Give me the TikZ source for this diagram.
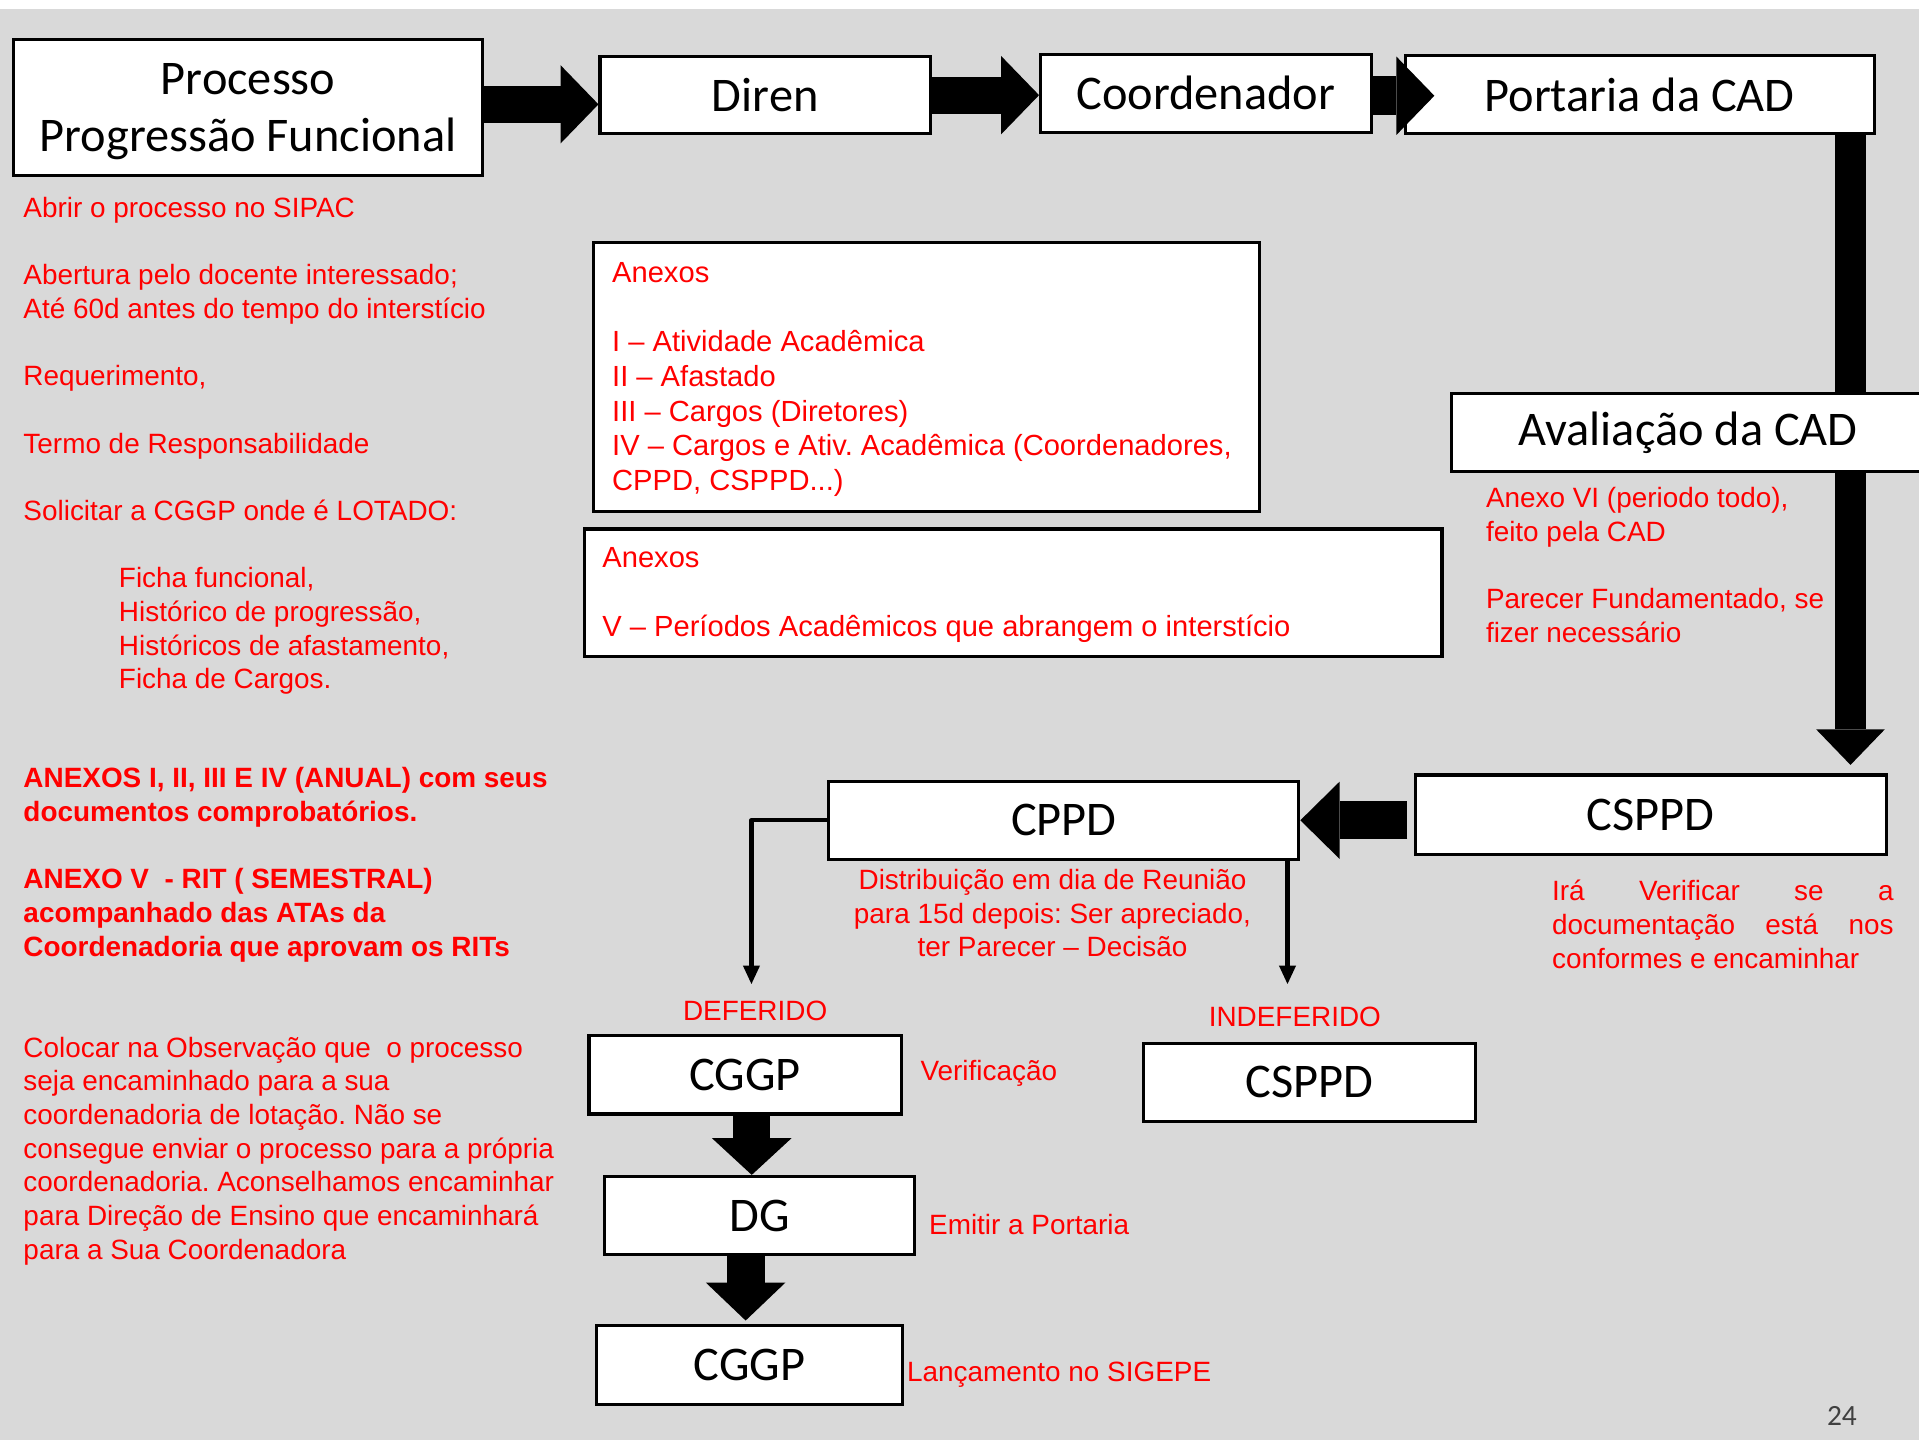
\documentclass[tikz,border=0pt]{standalone}
\usepackage{fontspec}
\setmainfont{Liberation Sans}
\newfontfamily\boxfamily{Carlito}
\usetikzlibrary{arrows.meta, positioning}
\usepackage{xcolor}
\definecolor{slideGray}{RGB}{217, 217, 217}
\definecolor{noteRed}{RGB}{255, 0, 0}
\definecolor{pageGray}{RGB}{64, 64, 64}
\frenchspacing
\newcommand{\boxfont}{\boxfamily\fontsize{39.5}{47}\selectfont}
\newcommand{\notefont}{\fontsize{22.8}{27.5}\selectfont}
\newcommand{\annexfont}{\fontsize{23.8}{28.4}\selectfont}
\tikzset{
    stagebox/.style={draw=black, line width=2.5pt, fill=white, font=\boxfont, inner sep=0pt, anchor=north west},
    annexbox/.style={draw=black, line width=2.5pt, fill=white, inner sep=0pt, anchor=north west},
    note/.style={text=noteRed, font=\notefont, inner sep=0pt, align=left, anchor=north west},
    tag/.style={text=noteRed, font=\notefont, inner sep=0pt, anchor=base west},
    bigarrow/.style={line width=30pt, -{Triangle[length=31pt, width=64pt, line width=0pt]}},
    thinarrow/.style={line width=3.5pt, line join=round, -{Triangle[length=15pt, width=14pt, line width=0pt]}}
}

\begin{document}
\begin{tikzpicture}[x=1pt, y=-1pt]
                    % Draw the slide background
                    \useasboundingbox (0,0) rectangle (1568,1177);
                    \fill[slideGray] (0,7) rectangle (1568,1177);

                    % Draw the top row of boxes
                    \node[stagebox, minimum width=383pt, minimum height=111pt, align=center, text depth=0pt] (proc) at (10,31) {Processo\\Progressão Funcional};
                    \node[stagebox, minimum width=270pt, minimum height=63pt] (diren) at (489,45) {Diren};
                    \node[stagebox, minimum width=270pt, minimum height=64pt] (coord) at (849,43) {Coordenador};
                    \node[stagebox, minimum width=383pt, minimum height=64pt] (portaria) at (1147,44) {Portaria da CAD};

                    % Draw the arrows between them
                    \draw[bigarrow] ([yshift=2.5pt]proc.east) -- ([yshift=2.5pt]proc.east -| diren.west);
                    \draw[bigarrow] (diren.east) -- (diren.east -| coord.west);
                    \draw[bigarrow, line width=32pt] ([yshift=-2pt]coord.east) -- ([xshift=25pt,yshift=-2pt]coord.east -| portaria.west);

                    % Draw the long arrow down to the CSPPD
                    \coordinate (cadDrop) at (1512,625);
                    \draw[bigarrow, line width=26pt, -{Triangle[length=29pt, width=56pt, line width=0pt]}] (portaria.south -| cadDrop) -- (cadDrop);

                    % Draw the CAD box and its notes
                    \node[stagebox, minimum width=386pt, minimum height=64pt] (aval) at (1185,320) {Avaliação da CAD};
                    \node[note] (avalNote) at (1214,398) {Anexo VI (periodo todo),\\ feito pela CAD\\[27.5pt] Parecer Fundamentado, se\\ fizer necessário};

                    % Draw the boxes with the annexes
                    \node[annexbox, minimum width=544pt, minimum height=220pt] (annexA) at (484,197) {};
                    \node[note, font=\annexfont] (annexAText) at (500,214) {Anexos\\[28.4pt] I – Atividade Acadêmica\\ II – Afastado\\ III – Cargos (Diretores)\\ IV – Cargos e Ativ. Acadêmica (Coordenadores,\\ CPPD, CSPPD...)};
                    \node[annexbox, minimum width=701pt, minimum height=104pt] (annexB) at (476,431) {};
                    \node[note, font=\annexfont] (annexBText) at (492,447) {Anexos\\[28.4pt] V – Períodos Acadêmicos que abrangem o interstício};

                    % Draw the CSPPD and the CPPD
                    \node[stagebox, minimum width=385pt, minimum height=65pt] (csppd) at (1155,632) {CSPPD};
                    \node[stagebox, minimum width=384pt, minimum height=64pt] (cppd) at (676,637) {CPPD};
                    \draw[bigarrow, line width=31pt, -{Triangle[length=32pt, width=63pt, line width=0pt]}] ([xshift=-5pt]csppd.west |- cppd.east) -- (cppd.east);
                    \node[note, text width=279pt, align=justify] (csppdNote) at (1268,719) {Irá Verificar se a\linebreak documentação está nos\linebreak conformes e encaminhar};
                    \node[note, align=center, anchor=north] (cppdNote) at (860,710) {Distribuição em dia de Reunião\\ para 15d depois: Ser apreciado,\\ ter Parecer – Decisão};

                    % Draw the two decisions
                    \coordinate (defTip) at (614,804);
                    \coordinate (indTip) at (1052,804);
                    \draw[thinarrow] (cppd.west) -- (cppd.west -| defTip) -- (defTip);
                    \draw[thinarrow] (cppd.south -| indTip) -- (indTip);
                    \node[tag, anchor=base] (deferido) at (617,834) {DEFERIDO};
                    \node[tag, anchor=base] (indeferido) at (1058,839) {INDEFERIDO};

                    % Draw the lower boxes
                    \node[stagebox, minimum width=255pt, minimum height=64pt] (cggp) at (480,845) {CGGP};
                    \node[stagebox, minimum width=271pt, minimum height=64pt] (csppdLow) at (933,851) {CSPPD};
                    \node[stagebox, minimum width=253pt, minimum height=64pt] (dg) at (493,960) {DG};
                    \node[stagebox, minimum width=250pt, minimum height=64pt] (cggpLow) at (486,1082) {CGGP};
                    \draw[bigarrow, -{Triangle[length=30pt, width=65pt, line width=0pt]}] ([xshift=5.5pt]cggp.south) -- ([xshift=5.5pt]cggp.south |- dg.north);
                    \draw[bigarrow, line width=31pt, -{Triangle[length=31pt, width=65pt, line width=0pt]}] ([xshift=-3pt]cggpLow.north |- dg.south) -- ([xshift=-3pt,yshift=3pt]cggpLow.north);
                    \node[tag] (cggpNote) at (752,883) {Verificação};
                    \node[tag] (dgNote) at (759,1009) {Emitir a Portaria};
                    \node[tag] (cggpLowNote) at (741,1129) {Lançamento no SIGEPE};

                    % Draw the notes on the left
                    \node[note] (stepsNote) at (19,161) {Abrir o processo no SIPAC\\[27.5pt] Abertura pelo docente interessado;\\ Até 60d antes do tempo do interstício\\[27.5pt] Requerimento,\\[27.5pt] Termo de Responsabilidade\\[27.5pt] Solicitar a CGGP onde é LOTADO:\\[27.5pt] \hspace*{78pt}Ficha funcional,\\ \hspace*{78pt}Histórico de progressão,\\ \hspace*{78pt}Históricos de afastamento,\\ \hspace*{78pt}Ficha de Cargos.};
                    \node[note, font=\notefont\bfseries] (annexNote) at (19,627) {ANEXOS I, II, III E IV (ANUAL) com seus\\ documentos comprobatórios.\\[27.5pt] ANEXO V\ \ - RIT ( SEMESTRAL)\\ acompanhado das ATAs da\\ Coordenadoria que aprovam os RITs};
                    \node[note] (routeNote) at (19,847) {Colocar na Observação que\ \ o processo\\ seja encaminhado para a sua\\ coordenadoria de lotação. Não se\\ consegue enviar o processo para a própria\\ coordenadoria. Aconselhamos encaminhar\\ para Direção de Ensino que encaminhará\\ para a Sua Coordenadora};

                    % Draw the page number
                    \node[font=\boxfamily\fontsize{24}{28}\selectfont, text=pageGray, inner sep=0pt] (pageNo) at (1505,1157) {24};
                \end{tikzpicture}
\end{document}
